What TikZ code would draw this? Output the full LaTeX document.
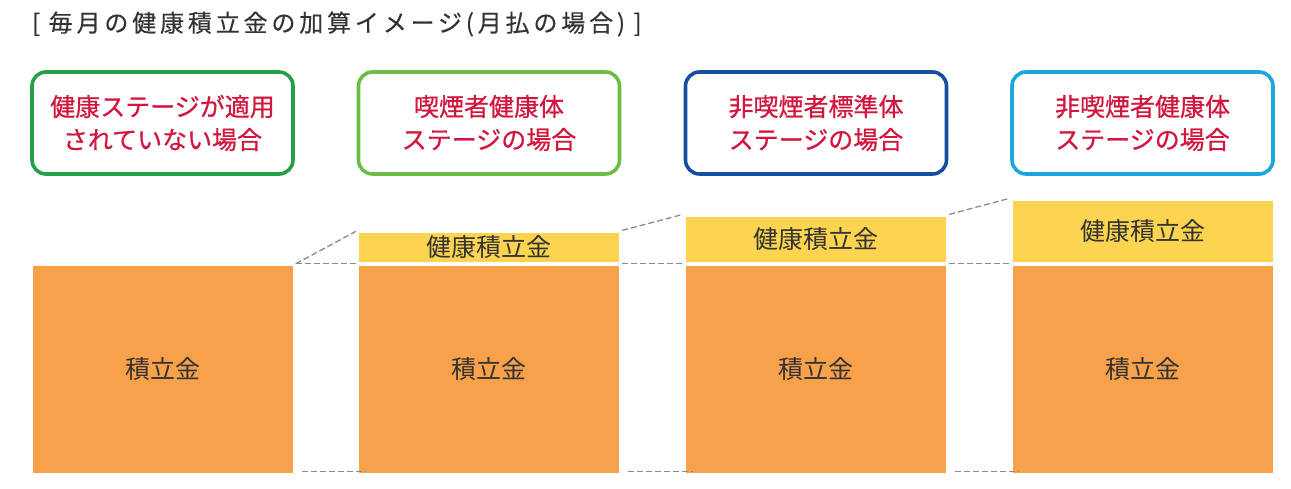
\documentclass[tikz,border=0pt]{standalone}
\usepackage{fontspec}
\setmainfont{Noto Sans CJK JP}
\usetikzlibrary{positioning, calc}
\definecolor{inkdark}{HTML}{333333}
\definecolor{inkred}{HTML}{D2173F}
\definecolor{inkdash}{HTML}{8A8A8A}
\definecolor{fillorange}{HTML}{F7A14A}
\definecolor{fillyellow}{HTML}{FDD44F}
\definecolor{rimgreen}{HTML}{24A148}
\definecolor{rimlime}{HTML}{6BBE45}
\definecolor{rimnavy}{HTML}{164F9E}
\definecolor{rimcyan}{HTML}{1BA6DE}
\tikzset{
  headbox/.style={draw=#1, line width=3.6pt, rounded corners=14pt, fill=white,
    minimum width=261pt, minimum height=102pt, align=center, text=inkred,
    font=\fontsize{25}{33}\selectfont\addfontfeature{FakeBold=0.7}},
  fundbox/.style={fill=fillorange, minimum width=260pt, minimum height=207pt,
    inner sep=0pt, text=inkdark, font=\fontsize{25}{28}\selectfont},
  bonusbox/.style={fill=fillyellow, minimum width=260pt, minimum height=#1,
    inner sep=0pt, anchor=south, text=inkdark, font=\fontsize{25}{28}\selectfont},
  guide/.style={inkdash, line width=1.3pt, dash pattern=on 6pt off 3pt}
}
\begin{document}
\begin{tikzpicture}[x=1pt, y=-1pt]
  \useasboundingbox (0,0) rectangle (1291,489);
  \node[anchor=west, inner sep=0pt, text=inkdark,
    font=\fontsize{24}{26}\selectfont\addfontfeature{LetterSpace=16, FakeBold=0.4}] (title)
    at (32,24) {[\hspace{0.35em}毎月の健康積立金の加算イメージ(月払の場合)\hspace{0.35em}]};
  % case headers
  \node[headbox=rimgreen] (h1) at (162.5,123) {健康ステージが適用\\されていない場合};
  \node[headbox=rimlime]  (h2) at (489,123) {喫煙者健康体\\ステージの場合};
  \node[headbox=rimnavy]  (h3) at (816,123) {非喫煙者標準体\\ステージの場合};
  \node[headbox=rimcyan]  (h4) at (1142.5,123) {非喫煙者健康体\\ステージの場合};
  % savings columns
  \foreach \i/\cx in {1/162.5, 2/489, 3/816, 4/1142.5}{%
    \node[fundbox] (f\i) at (\cx,369.5) {積立金};}
  \node[bonusbox=29pt] (b2) at ($(f2.north)+(0,-4)$) {健康積立金};
  \node[bonusbox=45pt] (b3) at ($(f3.north)+(0,-4)$) {健康積立金};
  \node[bonusbox=61pt] (b4) at ($(f4.north)+(0,-4)$) {健康積立金};
  % guide lines
  \draw[guide] ($(f1.north east)+(3,-2)$) -- ($(b2.north west)+(-3,-1)$);
  \draw[guide] ($(f1.north east)+(3,-2)$) -- ($(f2.north west)+(-3,-2)$);
  \draw[guide] ($(b2.north east)+(3,-2)$) -- ($(b3.north west)+(-3,-2)$);
  \draw[guide] ($(b2.south east)+(3,2)$) -- ($(b3.south west)+(-3,2)$);
  \draw[guide] ($(b3.north east)+(3,-2)$) -- ($(b4.north west)+(-3,-2)$);
  \draw[guide] ($(b3.south east)+(3,2)$) -- ($(b4.south west)+(-3,2)$);
  \foreach \a/\b in {1/2, 2/3, 3/4}{%
    \draw[guide] ($(f\a.south east)+(9,-2)$) -- ($(f\b.south west)+(7,-2)$);}
\end{tikzpicture}
\end{document}
